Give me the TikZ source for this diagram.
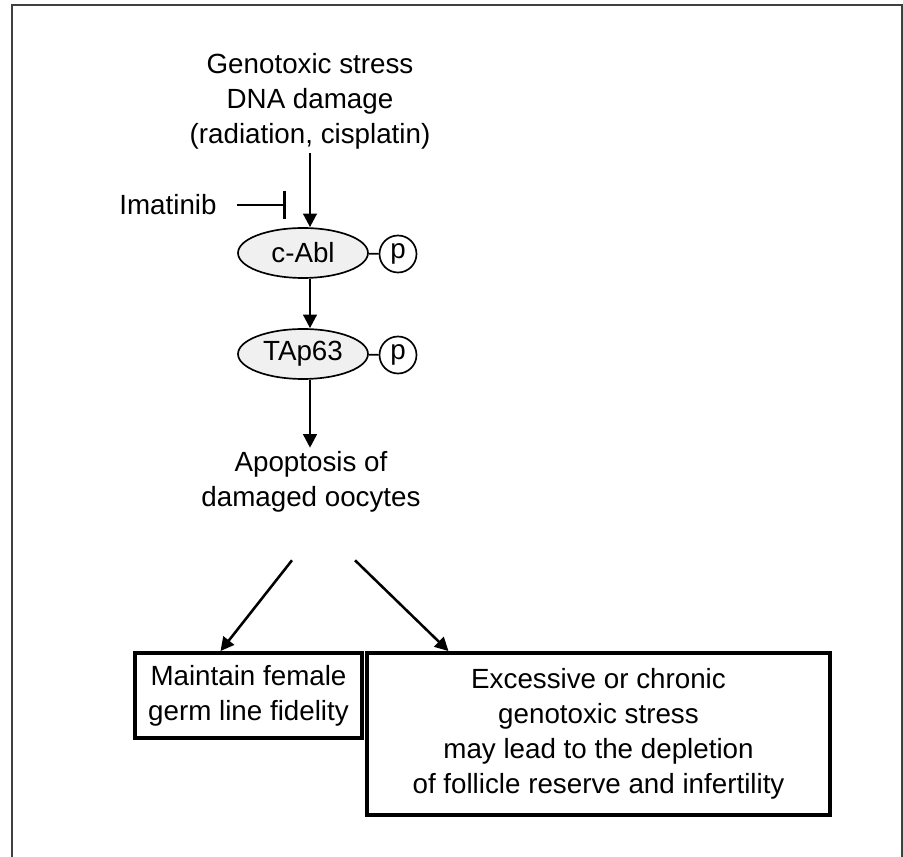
\documentclass[tikz,border=0pt]{standalone}
\usepackage{fontspec}
\setmainfont{Liberation Sans}
\usetikzlibrary{arrows.meta,shapes.geometric,positioning,calc}

\begin{document}
\begin{tikzpicture}
	[x=0.02cm, y=-0.02cm,
	every node/.style={font=\fontsize{15.8}{19.9}\selectfont},
	txt/.style={align=center, inner sep=2pt},
	prot/.style={ellipse, draw, line width=0.95pt, fill=gray!12, minimum width=2.6cm, minimum height=1.0cm, inner sep=0},
	phos/.style={circle, draw, line width=0.95pt, fill=white, minimum size=0.74cm, inner sep=0},
	outcome/.style={rectangle, draw, line width=2.2pt, align=center, inner sep=0},
	act/.style={-{Triangle[length=2.7mm,width=2.7mm]}, line width=1.45pt},
	inh/.style={-{Bar[width=5.6mm]}, line width=1.45pt}]
	\useasboundingbox (0,0) rectangle (903,857);
	% frame, open at the bottom
	\draw[line width=1.1pt, black!75] (12,857) -- (12,5) -- (902,5) -- (902,857);

	\node (stress) [txt] at (310,101) {Genotoxic stress\\DNA damage\\(radiation, cisplatin)};
	\node (imat) [txt] at (168,205) {Imatinib};
	\coordinate (block) at (286,205);
	\node (abl) [prot] at (303,253) {c-Abl};
	\node (ablp) [phos] at (398,254) {p};
	\node (tap) [prot] at (303,354) {TAp63};
	\node (tapp) [phos] at (398,355) {p};
	\node (apop) [txt] at (311,482) {Apoptosis of\\damaged oocytes};
	\node (keep) [outcome, minimum width=4.54cm, minimum height=1.7cm] at (248.5,695.5)
		{Maintain female\\germ line fidelity};
	\node (loss) [outcome, minimum width=9.26cm, minimum height=3.24cm] at (598.5,734)
		{Excessive or chronic\\genotoxic stress\\may lead to the depletion\\of follicle reserve and infertility};

	\draw[act] (stress.south) -- (stress.south |- abl.north);
	\draw[inh, shorten <=0.34cm] (imat.east) -- (block);
	\draw[line width=0.95pt] (abl) -- (ablp);
	\draw[act] (abl.south -| stress.south) -- (tap.north -| stress.south);
	\draw[line width=0.95pt] (tap) -- (tapp);
	\draw[act] (tap.south -| stress.south) -- (apop.north -| stress.south);
	\draw[act] ($(apop.south)+(-19,44)$) -- ($(keep.north)+(-28,0)$);
	\draw[act] ($(apop.south)+(44,44)$) -- ($(loss.north)+(-150,0)$);
\end{tikzpicture}
\end{document}
